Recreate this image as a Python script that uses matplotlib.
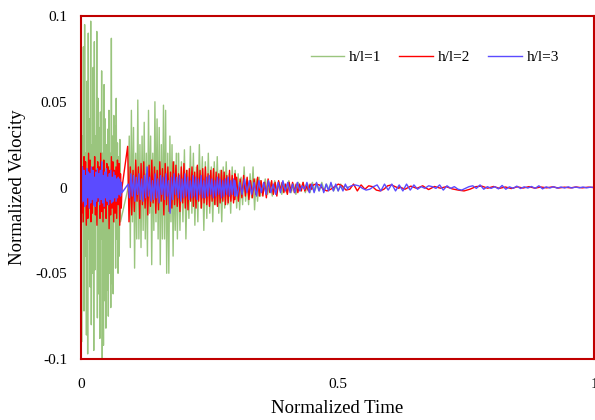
import numpy as np
import matplotlib
matplotlib.use("Agg")
import matplotlib.pyplot as plt

plt.rcParams['font.family'] = ['Liberation Serif', 'DejaVu Serif']

# --- datos (velocidad normalizada por tramos de tiempo) ---
# h/l = 1
green_spans = [(0.0, 0.077), (0.092, 0.19), (0.19, 0.35), (0.35, 0.52)]
green_1 = [0.05, -0.09, 0.03, -0.02, 0.082, -0.072, 0.095, -0.04, 0.02, -0.086,
           0.062, -0.097, 0.09, -0.03, 0.04, -0.058, 0.097, -0.08, 0.025, -0.05,
           0.07, -0.095, 0.085, -0.048, 0.03, -0.02, 0.091, -0.076, 0.052, -0.062,
           0.035, -0.088, 0.044, -0.03, 0.068, -0.1, 0.02, -0.092, 0.06, -0.066,
           0.04, -0.082, 0.025, -0.06, 0.034, -0.075, 0.045, -0.05, 0.02, -0.07,
           0.087, -0.056, 0.03, -0.062, 0.042, -0.02, 0.036, -0.047, 0.052, -0.03,
           0.026, -0.05, 0.018, -0.04, 0.028, -0.02]
green_2 = [0.0, 0.03, -0.035, 0.045, -0.02, 0.035, -0.047, 0.02, -0.03, 0.051,
           -0.03, 0.025, -0.035, 0.03, -0.025, 0.038, -0.03, 0.02, -0.04, 0.045,
           -0.015, 0.03, -0.045, 0.02, -0.025, 0.05, -0.02, 0.04, -0.03, 0.035,
           -0.045, 0.025, -0.03, 0.048, -0.03, 0.045, -0.05, 0.02, -0.05, 0.03,
           -0.02, 0.025, -0.04, 0.015, -0.025, 0.02, -0.03, 0.015]
green_3 = [0.02, -0.025, 0.015, -0.02, 0.022, -0.03, 0.01, -0.018, 0.024, -0.015,
           0.02, -0.022, 0.012, -0.02, 0.025, -0.012, 0.018, -0.025, 0.015, -0.018,
           0.02, -0.015, 0.012, -0.02, 0.015, -0.01, 0.018, -0.015, 0.01, -0.02,
           0.012, -0.012, 0.015, -0.01, 0.008, -0.015, 0.012, -0.008, 0.01, -0.012,
           0.008, -0.013, 0.006, -0.01, 0.012, -0.008, 0.005, -0.01, 0.008, -0.006,
           0.012, -0.013, 0.005, -0.008, 0.006, -0.005]
green_4 = [0.004, -0.003, 0.005, -0.004, 0.003, -0.005, 0.004, -0.002, 0.003, -0.004,
           0.002, -0.003, 0.004, -0.003, 0.002, -0.004, 0.003, -0.002, 0.003, -0.003,
           0.002, -0.003, 0.003, -0.002, 0.002, -0.002, 0.003, -0.002, 0.002, -0.001,
           0.002, -0.002, 0.001, -0.002, 0.002, -0.001, 0.001, 0.0]

# h/l = 2
red_spans = [(0.0, 0.08), (0.091, 0.3), (0.3, 0.45), (0.45, 0.62), (0.62, 1.0)]
red_1 = [0.008, -0.015, 0.012, -0.02, 0.018, -0.01, 0.015, -0.022, 0.01, -0.018,
         0.02, -0.012, 0.016, -0.02, 0.008, -0.015, 0.012, -0.01, 0.018, -0.016,
         0.01, -0.022, 0.015, -0.008, 0.012, -0.018, 0.02, -0.014, 0.01, -0.02,
         0.016, -0.012, 0.008, -0.018, 0.014, -0.01, 0.012, -0.024, 0.01, -0.016,
         0.018, -0.012, 0.015, -0.02, 0.01, -0.015, 0.012, -0.018, 0.016, -0.01,
         0.014, -0.022, 0.008, -0.012, 0.0]
red_2 = [0.024, -0.02, 0.012, -0.016, 0.01, -0.014, 0.016, -0.008, 0.012, -0.018,
         0.014, -0.01, 0.015, -0.012, 0.008, -0.016, 0.013, -0.011, 0.016, -0.009,
         0.012, -0.015, 0.01, -0.013, 0.015, -0.008, 0.011, -0.016, 0.014, -0.01,
         0.012, -0.014, 0.009, -0.012, 0.015, -0.01, 0.013, -0.011, 0.008, -0.014,
         0.012, -0.009, 0.014, -0.012, 0.01, -0.013, 0.011, -0.008, 0.012, -0.011,
         0.009, -0.012, 0.013, -0.008, 0.01, -0.012, 0.011, -0.009, 0.012, -0.01,
         0.008, -0.011, 0.01, -0.008, 0.011, -0.01, 0.009, -0.011, 0.008, -0.009,
         0.01, -0.008, 0.009, -0.01, 0.007, -0.009, 0.01, -0.008, 0.007, -0.009, 0.008]
red_3 = [-0.007, 0.006, -0.008, 0.005, -0.006, 0.007, -0.005, 0.006, -0.007, 0.004,
         -0.006, 0.005, -0.004, 0.006, -0.005, 0.004, -0.005, 0.003, -0.006, 0.005,
         -0.003, 0.004, -0.004, 0.003, -0.005, 0.004, -0.002, 0.003, -0.003, 0.002,
         -0.004, 0.003, -0.002, 0.003, -0.003, 0.002, -0.003, 0.002, -0.002, 0.003,
         -0.002, 0.001, -0.002, 0.002, -0.001]
red_4 = [0.001, 0.002, 0.0015, -0.001, -0.002, -0.001, 0.0005, 0.002, 0.001, -0.0015,
         -0.001, 0.002, -0.002, 0.0015, -0.001, 0.001, 0.0005, -0.0015, -0.002, -0.001,
         0.001, 0.0015, 0.0005, -0.0005]
red_5 = [0.0005, -0.001, 0.0008, -0.0005, 0.001, -0.0012, 0.0006, -0.0004, 0.0005, -0.0008,
         -0.0015, -0.002, -0.001, 0.0005, 0.0008, -0.0004, 0.0006, -0.0005, 0.0003, -0.0006,
         0.0004, -0.0003, 0.0005, -0.0004, 0.0003, -0.0002, 0.0004, -0.0003, 0.0002, -0.0002,
         0.0003, -0.0002, 0.0002, 0.0]

# h/l = 3
blue_spans = [(0.0, 0.08), (0.092, 0.3), (0.3, 0.52), (0.52, 1.0)]
blue_1 = [0.01, -0.009, 0.012, -0.008, 0.01, -0.011, 0.007, -0.01, 0.011, -0.006,
          0.009, -0.012, 0.008, -0.009, 0.012, -0.007, 0.01, -0.01, 0.006, -0.011,
          0.009, -0.008, 0.011, -0.006, 0.008, -0.01, 0.01, -0.007, 0.015, -0.009,
          0.007, -0.011, 0.009, -0.006, 0.011, -0.008, 0.006, -0.01, 0.008, -0.007,
          0.01, -0.009, 0.006, -0.008, 0.009, -0.006, 0.007, -0.008, 0.005, -0.006,
          0.006, -0.004, 0.005, -0.005, 0.003, -0.003]
blue_2 = [0.002, -0.006, 0.008, -0.005, 0.007, -0.008, 0.006, -0.004, 0.008, -0.007,
          0.005, -0.008, 0.007, -0.006, 0.012, -0.005, 0.006, -0.008, 0.004, -0.007,
          0.008, -0.006, 0.005, -0.009, 0.007, -0.004, 0.006, -0.007, 0.008, -0.005,
          0.004, -0.015, 0.006, -0.007, 0.008, -0.004, 0.006, -0.006, 0.007, -0.008,
          0.005, -0.006, 0.008, -0.005, 0.006, -0.007, 0.004, -0.006, 0.007, -0.005,
          0.006, -0.007, 0.005, -0.004, 0.007, -0.006, 0.004, -0.006, 0.006, -0.005,
          0.007, -0.004, 0.005, -0.006, 0.004, -0.005, 0.006, -0.004, 0.005, -0.006,
          0.004, -0.005, 0.005, -0.004, 0.006, -0.005, 0.004, -0.004, 0.005, -0.005]
blue_3 = [0.004, -0.005, 0.003, -0.004, 0.005, -0.003, 0.004, -0.004, 0.003, -0.005,
          0.004, -0.003, 0.003, -0.004, 0.004, -0.003, 0.002, -0.004, 0.003, -0.003,
          0.004, -0.002, 0.003, -0.003, 0.002, -0.003, 0.003, -0.002, 0.001, -0.001,
          0.003, -0.003, 0.002, -0.003, 0.003, -0.002, 0.002, -0.003, 0.002, -0.002,
          0.003, -0.002, 0.002, -0.002, 0.001, -0.002, 0.002, -0.001]
blue_4 = [0.0, 0.001, 0.0015, 0.001, -0.0005, -0.0015, -0.001, 0.0005, 0.0015, -0.002,
          0.002, -0.0015, 0.002, -0.002, 0.0015, -0.002, 0.002, -0.0015, 0.0015, -0.001,
          0.0005, -0.0005, 0.001, 0.0005, -0.0005, 0.0015, -0.0015, 0.001, -0.0005, 0.0005,
          -0.001, -0.0015, -0.0005, 0.0005, 0.001, -0.0005, 0.0015, -0.001, 0.0005, -0.0005,
          0.0005, -0.0008, 0.0012, -0.001, 0.0004, -0.0005, 0.0008, -0.0006, 0.0004, -0.0003,
          0.0006, -0.0005, 0.001, -0.0008, 0.0004, -0.0003, 0.0005, -0.0004, 0.0003, -0.0003,
          0.0004, -0.0003, 0.0003, -0.0002, 0.0003, -0.0002, 0.0002, 0.0]


# Une los tramos en un solo arreglo de tiempo y velocidad
def build(spans, segments):
    t_parts, v_parts = [], []
    for (t0, t1), vals in zip(spans, segments):
        t_parts.append(np.linspace(t0, t1, len(vals)))
        v_parts.append(np.array(vals))
    return np.concatenate(t_parts), np.concatenate(v_parts)


t_g, v_g = build(green_spans, [green_1, green_2, green_3, green_4])
t_r, v_r = build(red_spans, [red_1, red_2, red_3, red_4, red_5])
t_b, v_b = build(blue_spans, [blue_1, blue_2, blue_3, blue_4])

# Graficar
fig = plt.figure(figsize=(5.95, 4.2), dpi=100)
ax = fig.add_axes([0.1361, 0.1452, 0.8622, 0.8167])

ax.plot(t_g, v_g, color='#70AD47', lw=1, alpha=0.7, label="h/l=1")
ax.plot(t_r, v_r, color='#FF0000', lw=1, label="h/l=2")
ax.plot(t_b, v_b, color='#5B4BFF', lw=1, label="h/l=3")

ax.set_xlim(0, 1)
ax.set_ylim(-0.1, 0.1)
ax.set_xticks([0, 0.5, 1])
ax.set_xticklabels(["0", "0.5", "1"])
ax.set_yticks([-0.1, -0.05, 0, 0.05, 0.1])
ax.set_yticklabels(["-0.1", "-0.05", "0", "0.05", "0.1"])
ax.tick_params(axis='both', length=0, labelsize=11)
ax.tick_params(axis='y', pad=10)
ax.tick_params(axis='x', pad=14)

for s in ax.spines.values():
    s.set_color('#C00000')
    s.set_linewidth(1.5)

ax.set_xlabel("Normalized Time", fontsize=13.5, labelpad=6)
ax.set_ylabel("Normalized Velocity", fontsize=13.5, labelpad=7)

fig.legend(loc='center left', bbox_to_anchor=(0.522, 0.864), ncol=3, frameon=False,
           fontsize=11, handlelength=2.2, handletextpad=0.3, columnspacing=1.2,
           borderpad=0, borderaxespad=0)

fig.savefig("out.png", dpi=100)
